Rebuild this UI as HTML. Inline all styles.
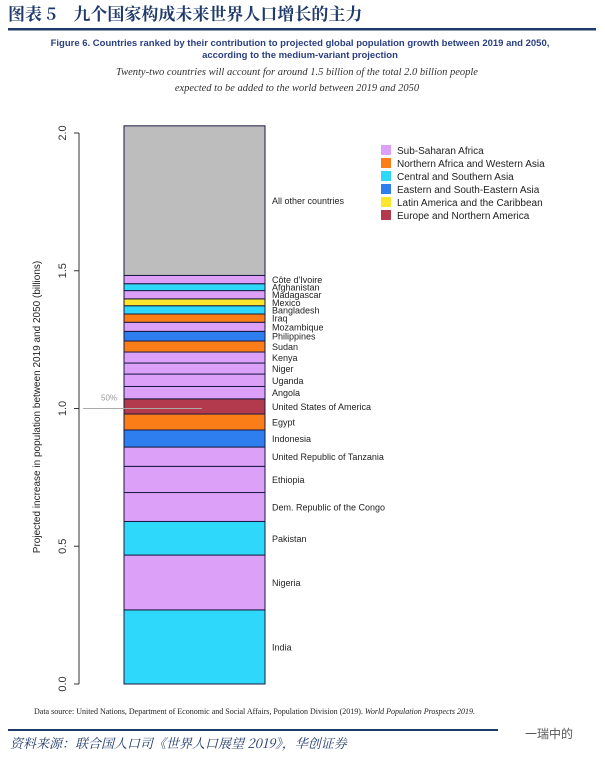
<!DOCTYPE html>
<html><head><meta charset="utf-8"><style>
body{margin:0;background:#fff;width:605px;height:758px;overflow:hidden;font-family:"Liberation Sans","Noto Sans CJK SC",sans-serif}
</style></head><body>
<svg width="605" height="758" viewBox="0 0 605 758" xmlns="http://www.w3.org/2000/svg">
<text x="8" y="20" font-family="'Noto Serif CJK SC','Noto Sans CJK SC',serif" font-size="17" font-weight="bold" fill="#1f3a6b">图表 5　九个国家构成未来世界人口增长的主力</text>
<rect x="8" y="28" width="588" height="2.5" fill="#1f3a6b"/>
<text x="300" y="46" text-anchor="middle" font-size="9.5" font-weight="bold" fill="#2a3f80">Figure 6. Countries ranked by their contribution to projected global population growth between 2019 and 2050,</text>
<text x="300" y="58" text-anchor="middle" font-size="9.5" font-weight="bold" fill="#2a3f80">according to the medium-variant projection</text>
<text x="297" y="75" text-anchor="middle" font-family="'Liberation Serif',serif" font-style="italic" font-size="10.5" fill="#333">Twenty-two countries will account for around 1.5 billion of the total 2.0 billion people</text>
<text x="297" y="91" text-anchor="middle" font-family="'Liberation Serif',serif" font-style="italic" font-size="10.5" fill="#333">expected to be added to the world between 2019 and 2050</text>
<g id="plot"></g>
<text transform="translate(40,407) rotate(-90)" text-anchor="middle" font-size="10" fill="#222">Projected increase in population between 2019 and 2050 (billions)</text>
<text x="34" y="714" font-family="'Liberation Serif',serif" font-size="8" fill="#222">Data source: United Nations, Department of Economic and Social Affairs, Population Division (2019). <tspan font-style="italic">World Population Prospects 2019.</tspan></text>
<rect x="8" y="729" width="490" height="2" fill="#1f3a6b"/>
<text x="10" y="748" font-family="'Noto Serif CJK SC',serif" font-style="italic" font-size="13" fill="#1f3a6b">资料来源：联合国人口司《世界人口展望 2019》，华创证券</text>
<text x="525" y="738" font-size="12" fill="#555">一瑞中的</text>
</svg>
<script>
const countries=["India","Nigeria","Pakistan","Dem. Republic of the Congo","Ethiopia","United Republic of Tanzania","Indonesia","Egypt","United States of America","Angola","Uganda","Niger","Kenya","Sudan","Philippines","Mozambique","Iraq","Bangladesh","Mexico","Madagascar","Afghanistan","Côte d'Ivoire","All other countries"];
const values=[0.269,0.199,0.122,0.105,0.095,0.07,0.062,0.058,0.055,0.045,0.045,0.04,0.04,0.04,0.035,0.033,0.03,0.03,0.025,0.03,0.025,0.03,0.543];
const regions=[2,0,2,0,0,0,3,1,5,0,0,0,0,1,3,0,1,2,4,0,2,0,6];
const regionNames=["Sub-Saharan Africa","Northern Africa and Western Asia","Central and Southern Asia","Eastern and South-Eastern Asia","Latin America and the Caribbean","Europe and Northern America"];
const regionColors=["#dca0f8","#fb7d17","#2ed8fa","#2f7ef0","#fbe62c","#b23a4c","#bdbdbd"];
const yTicks=[0,0.5,1,1.5,2];
const yTickLabels=["0.0","0.5","1.0","1.5","2.0"];
const NS="http://www.w3.org/2000/svg";
const g=document.getElementById("plot");
const y=v=>684-v*275.5;
function mk(t,a){const e=document.createElementNS(NS,t);for(const k in a)e.setAttribute(k,a[k]);g.appendChild(e);return e;}
let ax=mk("line",{x1:79,x2:79,y1:y(0),y2:y(2),stroke:"#333"});


yTicks.forEach((v,i)=>{
 const t=mk("line",{x1:74,x2:79,y1:y(v),y2:y(v),stroke:"#333"});
 
 
 const l=mk("text",{transform:`translate(66,${y(v)}) rotate(-90)`,"text-anchor":"middle","font-size":"11",fill:"#333"});
 l.textContent=yTickLabels[i];
 
 
});
let cum=0;
countries.forEach((c,i)=>{
 const b=cum,t=cum+values[i];cum=t;
 const r=mk("rect",{x:124,width:141,y:y(t),height:y(b)-y(t),fill:regionColors[regions[i]],stroke:"#1a1a40","stroke-width":"1"});
 
 
 const lab=mk("text",{x:272,y:(y(b)+y(t))/2+3.5,"font-size":"9",fill:"#222"});
 lab.textContent=c;
 
 
});
let ml=mk("line",{x1:83,x2:202,y1:y(1.0),y2:y(1.0),stroke:"#aaa","stroke-width":"1"});


let mt=mk("text",{x:101,y:y(1.0)-8,"font-size":"8",fill:"#999"});mt.textContent="50%";


regionNames.forEach((n,i)=>{
 const yy=145+i*13;
 const s=mk("rect",{x:381,y:yy,width:10,height:10,fill:regionColors[i]});
 
 
 const t=mk("text",{x:397,y:yy+9,"font-size":"10",fill:"#222"});t.textContent=n;
 
 
});
</script>
</body></html>
